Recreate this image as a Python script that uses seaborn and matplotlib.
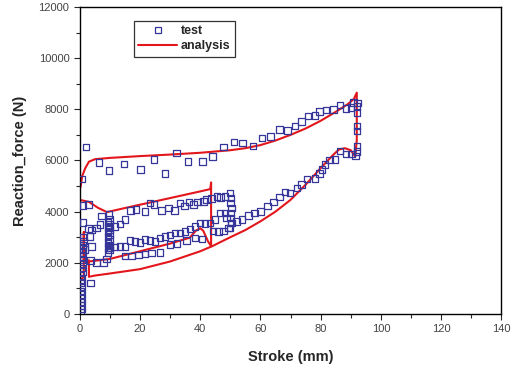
import numpy as np
import pandas as pd
import matplotlib
matplotlib.use('Agg')
import matplotlib.pyplot as plt
from matplotlib.lines import Line2D
import seaborn as sns

# ==========================================
# data
# ==========================================
# test points, big loop unloading (92 -> 0 mm)
up_x = [92.2, 90.9, 90.1, 88.5, 86.5, 84.2, 81.8, 79.6, 78.1, 75.8, 73.6, 71.5, 69.0, 66.3, 63.4,
        60.5, 57.5, 54.1, 51.2, 47.7, 44.1, 40.8, 36.0, 32.1, 28.3, 24.6, 20.2, 14.6, 9.6, 6.4, 2.0, 0.6]
up_y = [8240, 8260, 8070, 8030, 8160, 8000, 7970, 7910, 7750, 7740, 7520, 7350, 7180, 7220, 6940,
        6870, 6560, 6690, 6720, 6520, 6160, 5960, 5950, 6300, 5490, 6040, 5650, 5860, 5610, 5910, 6520, 5280]

# test points, vertical drop at end of stroke
end_x = [92.0, 92.1, 92.0, 92.1, 92.0, 92.0]
end_y = [8100, 7870, 7350, 7150, 6540, 6350]

# test points, big loop loading (50 -> 92 mm)
lo_x = [50.4, 52.1, 53.8, 56.0, 58.0, 60.0, 62.3, 64.3, 66.3, 68.2, 69.8, 72.1, 73.7, 75.4, 78.1,
        79.6, 80.4, 81.5, 83.0, 84.8, 86.5, 88.5, 90.3, 91.5]
lo_y = [3560, 3620, 3690, 3850, 3950, 4010, 4210, 4370, 4580, 4770, 4730, 4930, 5060, 5280, 5290,
        5480, 5650, 5840, 6010, 6040, 6370, 6260, 6260, 6170]

# test points, column at 50 mm
c50_x = [49.9, 50.2, 50.0, 50.3, 50.1, 50.0, 50.2, 49.9]
c50_y = [4730, 4540, 4340, 4150, 3950, 3750, 3560, 3360]

# test points, small loop upper band
mu_x = [1.1, 2.8, 7.2, 9.7, 16.9, 18.6, 21.6, 23.3, 24.7, 27.2, 29.4, 31.4, 33.3, 34.7, 36.3,
        37.7, 39.1, 41.0, 42.1, 43.8, 45.5, 46.8, 48.2]
mu_y = [4240, 4270, 3820, 3880, 4050, 4080, 4010, 4340, 4270, 4050, 4140, 4050, 4340, 4210, 4370,
        4270, 4380, 4400, 4470, 4510, 4600, 4560, 4600]

# test points, small loop middle band
ml_x = [10.0, 11.6, 13.3, 15.0, 16.6, 18.3, 20.0, 21.6, 23.3, 24.9, 26.6, 28.3, 29.9, 31.6, 33.3,
        34.9, 36.6, 38.2, 39.9, 41.6, 43.2, 44.9, 46.6, 48.2, 48.8]
ml_y = [2580, 2610, 2640, 2640, 2870, 2840, 2800, 2900, 2860, 2840, 2970, 3030, 3090, 3160, 3160,
        3230, 3320, 3420, 3560, 3530, 3560, 3690, 3950, 3950, 3750]

# test points, small loop lower band
ll_x = [3.5, 5.5, 7.8, 8.9, 15.0, 17.2, 19.4, 21.6, 23.8, 26.6, 29.9, 32.2, 35.5, 38.2, 40.5,
        44.3, 46.0, 47.7, 49.3]
ll_y = [2080, 2010, 2010, 2140, 2270, 2270, 2310, 2340, 2380, 2400, 2710, 2750, 2880, 2970, 2930,
        3250, 3230, 3250, 3360]

# test points, cluster near the start
ul_x = [1.1, 2.8, 3.9, 5.5, 6.7, 3.3, 3.9, 1.7, 11.6, 13.3, 15.0, 3.5]
ul_y = [3580, 3330, 3290, 3360, 3490, 3030, 2640, 2510, 3420, 3520, 3690, 1200]

# test points, column near 9.5 mm
c10_x = [9.3, 9.8, 9.3, 9.8, 9.3, 9.8, 9.3, 9.8, 9.3, 9.8, 9.3, 9.8, 9.3, 9.8]
c10_y = [2400, 2500, 2600, 2700, 2800, 2900, 3000, 3100, 3200, 3300, 3400, 3500, 3600, 3700]

# test points, column at 0 mm
c0_x = [0.3, 0.5, 0.3, 0.5, 0.3, 0.5, 0.3, 0.5, 0.3, 0.6, 0.4, 0.8, 0.5, 0.9, 0.6, 1.0, 0.7, 1.1, 0.8, 1.2, 1.0]
c0_y = [80, 200, 330, 460, 600, 750, 900, 1050, 1200, 1350, 1500, 1650, 1800, 1950, 2100,
        2250, 2400, 2550, 2700, 2850, 3000]

# analysis, big loop
ana1_x = [3, 3, 5, 10, 20, 30, 40, 44, 50, 55, 60, 65, 70, 75, 80, 84, 86, 88, 90, 91.5, 92, 92,
          91, 89, 85, 80, 75, 70, 65, 60, 55, 50, 40, 30, 20, 10, 5, 3, 1.8, 0.8, 0.2]
ana1_y = [2100, 1450, 1500, 1580, 1750, 2050, 2450, 2650, 3000, 3280, 3620, 4000, 4460, 5050, 5700,
          6200, 6420, 6480, 6400, 6150, 6800, 8650, 8400, 8200, 7900, 7550, 7250, 7000, 6780, 6600,
          6480, 6400, 6300, 6230, 6170, 6100, 6050, 5950, 5700, 5400, 4950]

# analysis, small loop
ana2_x = [0.3, 3, 6, 9, 15, 20, 30, 40, 43.3, 43.6, 43.6, 42.6, 41, 40, 38.5, 36.5, 30, 20, 10, 3,
          1.3, 1.3, 1.3, 0]
ana2_y = [4450, 4380, 4150, 3980, 4140, 4270, 4530, 4790, 4880, 5140, 2650, 2830, 3250, 3350, 3250,
          2980, 2750, 2450, 2150, 2050, 2080, 3200, 1450, 1300]

NAVY = '#36369a'
RED = '#e3161c'

test = pd.DataFrame({
    'stroke': up_x + end_x + lo_x + c50_x + mu_x + ml_x + ll_x + ul_x + c10_x + c0_x,
    'force': up_y + end_y + lo_y + c50_y + mu_y + ml_y + ll_y + ul_y + c10_y + c0_y,
})
ana = pd.DataFrame({
    'stroke': ana1_x + ana2_x,
    'force': ana1_y + ana2_y,
    'seg': [1] * len(ana1_x) + [2] * len(ana2_x),
})

sns.set_style('ticks')
plt.rcParams['font.family'] = ['Liberation Sans', 'DejaVu Sans']

fig = plt.figure(figsize=(5.12, 3.68), dpi=100)
ax = fig.add_axes([0.156, 0.147, 0.823, 0.834])

sns.lineplot(data=ana, x='stroke', y='force', units='seg', estimator=None, sort=False,
             color=RED, linewidth=1.5, ax=ax, legend=False, zorder=2)
sns.scatterplot(data=test, x='stroke', y='force', marker='s', s=22, facecolors='none',
                edgecolors=NAVY, linewidths=0.9, ax=ax, legend=False, zorder=3)

ax.set_xlim(0, 140)
ax.set_ylim(0, 12000)
ax.set_xticks(np.arange(0, 141, 20))
ax.set_yticks(np.arange(0, 12001, 2000))
ax.set_xticks(np.arange(10, 140, 20), minor=True)
ax.set_yticks(np.arange(1000, 12000, 2000), minor=True)
ax.tick_params(which='major', direction='out', length=4, width=0.8, labelsize=8, labelcolor='#444444')
ax.tick_params(which='minor', direction='out', length=3, width=0.8)
for sp in ax.spines.values():
    sp.set_visible(True)
    sp.set_linewidth(1.0)
    sp.set_color('black')

ax.set_xlabel('Stroke (mm)', fontsize=10.5, fontweight='bold', labelpad=11)
ax.set_ylabel('Reaction_force (N)', fontsize=10.5, fontweight='bold', labelpad=8)

handles = [Line2D([], [], marker='s', ls='none', mfc='none', mec=NAVY, mew=0.9, ms=4),
           Line2D([], [], color=RED, lw=1.5)]
leg = ax.legend(handles, ['test', 'analysis'], loc='upper left', bbox_to_anchor=(0.128, 0.955),
                borderaxespad=0, frameon=True, fancybox=False, handlelength=3.1,
                handletextpad=0.3, borderpad=0.35, labelspacing=0.25,
                prop={'weight': 'bold', 'size': 9})
leg.get_frame().set_edgecolor('black')
leg.get_frame().set_linewidth(0.9)

fig.savefig('out.png', dpi=100)
